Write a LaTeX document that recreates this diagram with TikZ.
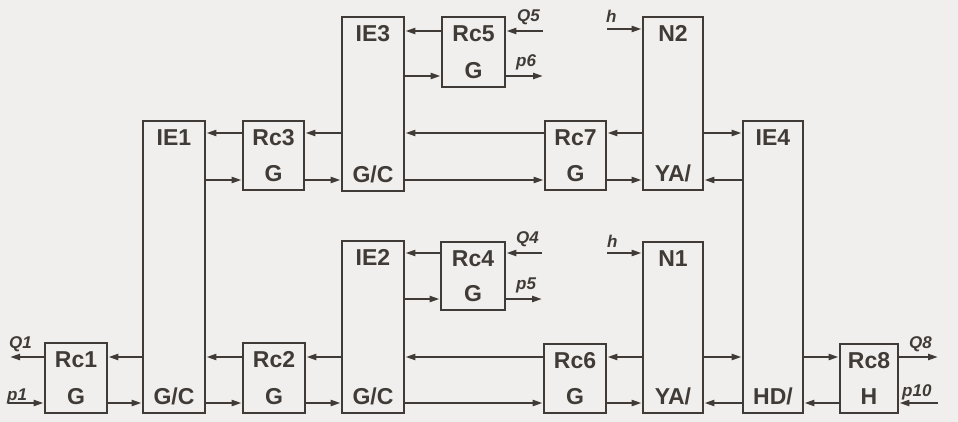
\documentclass[tikz,border=0pt]{standalone}
\usepackage{fontspec}
\setmainfont{Liberation Sans}
\usetikzlibrary{arrows.meta}
\definecolor{ink}{HTML}{403B37}
\definecolor{paper}{HTML}{F0EFED}
\newcommand{\blk}[7]{%
  \node[blockbox, minimum width={(#4)-(#2)}, minimum height={(#5)-(#3)}] (#1) at ({((#2)+(#4))/2},{((#3)+(#5))/2}) {};
  \node[bigtxt] (#1t) at ([yshift=-26pt]#1.north) {#6};
  \node[bigtxt] (#1b) at ([yshift=10pt]#1.south) {#7};}
\begin{document}
\begin{tikzpicture}[x=1pt,y=-1pt,
  blockbox/.style={draw=ink, line width=2.8pt, inner sep=0pt, rectangle},
  bigtxt/.style={anchor=base, inner sep=0pt, text=ink, font=\fontsize{23}{27}\selectfont\bfseries},
  smalltxt/.style={anchor=base west, inner sep=0pt, text=ink, font=\fontsize{17}{19}\selectfont\bfseries\itshape},
  arr/.style={draw=ink, line width=2.2pt, -{Triangle[length=10pt,width=6pt]}},
  ln/.style={draw=ink, line width=2.2pt}]
\fill[paper] (0,0) rectangle (958,422);
\useasboundingbox (0,0) rectangle (958,422);
% blocks
\blk{Rc1}{45}{343}{107}{413}{Rc1}{G}
\blk{IE1}{143}{121}{205}{413}{IE1}{G/C}
\blk{Rc3}{243}{121}{304}{190}{Rc3}{G}
\blk{Rc2}{243}{343}{305}{413}{Rc2}{G}
\blk{IE3}{342}{17}{404}{191}{IE3}{G/C}
\blk{IE2}{342}{241}{404}{413}{IE2}{G/C}
\blk{Rc5}{442}{17}{505}{87}{Rc5}{G}
\blk{Rc4}{441}{242}{505}{310}{Rc4}{G}
\blk{Rc7}{545}{121}{606}{190}{Rc7}{G}
\blk{Rc6}{544}{344}{606}{413}{Rc6}{G}
\blk{N2}{643}{17}{703}{190}{N2}{YA/}
\blk{N1}{643}{242}{703}{413}{N1}{YA/}
\blk{IE4}{743}{121}{803}{413}{IE4}{HD/}
\blk{Rc8}{840}{344}{898}{413}{Rc8}{H}
% rows
\coordinate (rA) at (0,31);
\coordinate (rA2) at (0,76);
\coordinate (rB) at (0,133);
\coordinate (rB2) at (0,180);
\coordinate (rC) at (0,253);
\coordinate (rC2) at (0,299);
\coordinate (rD) at (0,357);
\coordinate (rD2) at (0,403);
% free ends
\coordinate (q5) at (543,31);
\coordinate (p6) at (543,76);
\coordinate (h2) at (607,29);
\coordinate (q4) at (542,253);
\coordinate (p5) at (542,299);
\coordinate (h1) at (607,253);
\coordinate (q1) at (10,357);
\coordinate (p1) at (8,403);
\coordinate (q8) at (938,357);
\coordinate (p10) at (938,403);
% row A
\draw[arr] (Rc5.west |- rA) -- (IE3.east |- rA);
\draw[arr] (q5) -- (Rc5.east |- rA);
\draw[arr] (IE3.east |- rA2) -- (Rc5.west |- rA2);
\draw[arr] (Rc5.east |- rA2) -- (p6);
\draw[arr] (h2) -- (N2.west |- h2);
% row B
\draw[arr] (IE3.west |- rB) -- (Rc3.east |- rB);
\draw[arr] (Rc3.west |- rB) -- (IE1.east |- rB);
\draw[arr] (Rc7.west |- rB) -- (IE3.east |- rB);
\draw[arr] (N2.west |- rB) -- (Rc7.east |- rB);
\draw[arr] (N2.east |- rB) -- (IE4.west |- rB);
\draw[arr] (IE1.east |- rB2) -- (Rc3.west |- rB2);
\draw[arr] (Rc3.east |- rB2) -- (IE3.west |- rB2);
\draw[arr] (IE3.east |- rB2) -- (Rc7.west |- rB2);
\draw[arr] (Rc7.east |- rB2) -- (N2.west |- rB2);
\draw[arr] (IE4.west |- rB2) -- (N2.east |- rB2);
% row C
\draw[arr] (Rc4.west |- rC) -- (IE2.east |- rC);
\draw[arr] (q4) -- (Rc4.east |- rC);
\draw[arr] (h1) -- (N1.west |- h1);
\draw[arr] (IE2.east |- rC2) -- (Rc4.west |- rC2);
\draw[arr] (Rc4.east |- rC2) -- (p5);
% row D
\draw[arr] (IE1.west |- rD) -- (Rc1.east |- rD);
\draw[arr] (Rc1.west |- rD) -- (q1);
\draw[arr] (IE2.west |- rD) -- (Rc2.east |- rD);
\draw[arr] (Rc2.west |- rD) -- (IE1.east |- rD);
\draw[arr] (Rc6.west |- rD) -- (IE2.east |- rD);
\draw[arr] (N1.west |- rD) -- (Rc6.east |- rD);
\draw[arr] (N1.east |- rD) -- (IE4.west |- rD);
\draw[arr] (IE4.east |- rD) -- (Rc8.west |- rD);
\draw[arr] (Rc8.east |- rD) -- (q8);
\draw[arr] (p1) -- (Rc1.west |- rD2);
\draw[arr] (Rc1.east |- rD2) -- (IE1.west |- rD2);
\draw[arr] (IE1.east |- rD2) -- (Rc2.west |- rD2);
\draw[arr] (Rc2.east |- rD2) -- (IE2.west |- rD2);
\draw[arr] (IE2.east |- rD2) -- (Rc6.west |- rD2);
\draw[arr] (Rc6.east |- rD2) -- (N1.west |- rD2);
\draw[arr] (IE4.west |- rD2) -- (N1.east |- rD2);
\draw[arr] (Rc8.west |- rD2) -- (IE4.east |- rD2);
\draw[arr] (p10) -- (Rc8.east |- rD2);
% small labels
\node[smalltxt] (lq5) at (517,22) {Q5};
\node[smalltxt] (lp6) at (516,67) {p6};
\node[smalltxt] (lh2) at (606,23) {h};
\node[smalltxt] (lq4) at (516,243) {Q4};
\node[smalltxt] (lp5) at (516,289) {p5};
\node[smalltxt] (lh1) at (607,247) {h};
\node[smalltxt] (lq1) at (9,348) {Q1};
\node[smalltxt] (lp1) at (7,400) {p1};
\node[smalltxt] (lq8) at (909,348) {Q8};
\node[smalltxt] (lp10) at (902,396) {p10};
\end{tikzpicture}
\end{document}
